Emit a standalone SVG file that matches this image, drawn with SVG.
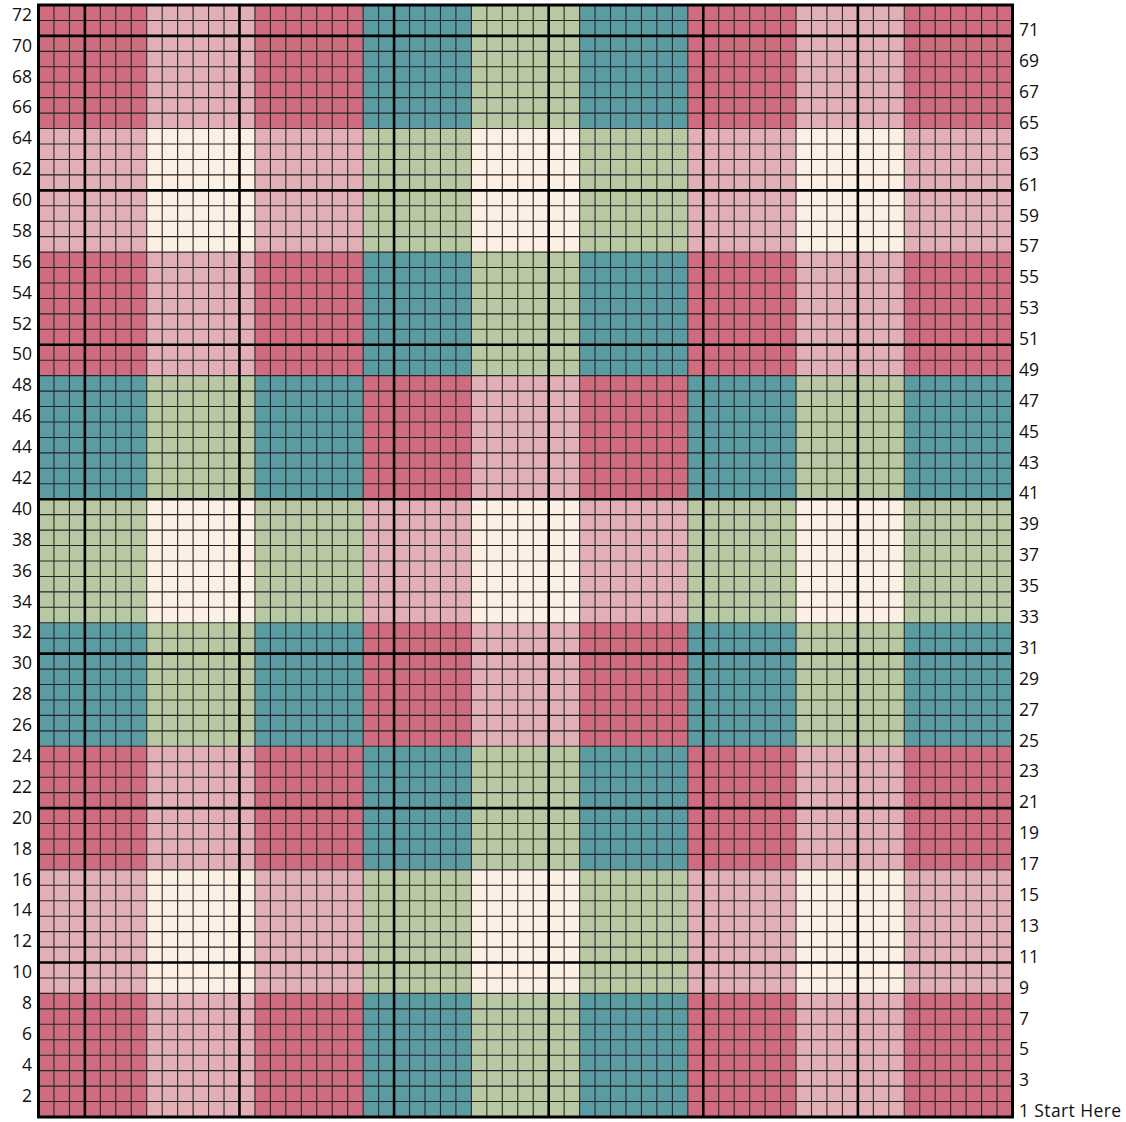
<svg xmlns="http://www.w3.org/2000/svg" xmlns:xlink="http://www.w3.org/1999/xlink" width="1126" height="1122" viewBox="0 0 1126 1122">
<style>
.p{fill:#D06C80}.l{fill:#E2AFB7}.c{fill:#FCF0E5}.t{fill:#5B9CA3}.g{fill:#B7C8A2}
.thin{fill:none;stroke:#262626;stroke-width:1.1}
.thick{fill:none;stroke:#000;stroke-width:2.6}
.border{fill:none;stroke:#000;stroke-width:3}
text{font-family:"Open Sans","Liberation Sans",sans-serif;font-size:17.5px;fill:#111}
.lft{text-anchor:end}
</style>
<defs>
<g id="rowA"><rect class="p" x="38.5" width="108.3" height="123.6"/><rect class="l" x="146.72" width="108.3" height="123.6"/><rect class="p" x="254.94" width="108.3" height="123.6"/><rect class="t" x="363.16" width="108.3" height="123.6"/><rect class="g" x="471.38" width="108.3" height="123.6"/><rect class="t" x="579.6" width="108.3" height="123.6"/><rect class="p" x="687.82" width="108.3" height="123.6"/><rect class="l" x="796.04" width="108.3" height="123.6"/><rect class="p" x="904.26" width="108.3" height="123.6"/></g>
<g id="rowB"><rect class="l" x="38.5" width="108.3" height="123.6"/><rect class="c" x="146.72" width="108.3" height="123.6"/><rect class="l" x="254.94" width="108.3" height="123.6"/><rect class="g" x="363.16" width="108.3" height="123.6"/><rect class="c" x="471.38" width="108.3" height="123.6"/><rect class="g" x="579.6" width="108.3" height="123.6"/><rect class="l" x="687.82" width="108.3" height="123.6"/><rect class="c" x="796.04" width="108.3" height="123.6"/><rect class="l" x="904.26" width="108.3" height="123.6"/></g>
<g id="rowC"><rect class="t" x="38.5" width="108.3" height="123.6"/><rect class="g" x="146.72" width="108.3" height="123.6"/><rect class="t" x="254.94" width="108.3" height="123.6"/><rect class="p" x="363.16" width="108.3" height="123.6"/><rect class="l" x="471.38" width="108.3" height="123.6"/><rect class="p" x="579.6" width="108.3" height="123.6"/><rect class="t" x="687.82" width="108.3" height="123.6"/><rect class="g" x="796.04" width="108.3" height="123.6"/><rect class="t" x="904.26" width="108.3" height="123.6"/></g>
<g id="rowD"><rect class="g" x="38.5" width="108.3" height="123.6"/><rect class="c" x="146.72" width="108.3" height="123.6"/><rect class="g" x="254.94" width="108.3" height="123.6"/><rect class="l" x="363.16" width="108.3" height="123.6"/><rect class="c" x="471.38" width="108.3" height="123.6"/><rect class="l" x="579.6" width="108.3" height="123.6"/><rect class="g" x="687.82" width="108.3" height="123.6"/><rect class="c" x="796.04" width="108.3" height="123.6"/><rect class="g" x="904.26" width="108.3" height="123.6"/></g>
</defs>
<rect width="1126" height="1122" fill="#fff"/>
<g id="blocks">
<use xlink:href="#rowA" href="#rowA" y="5"/>
<use xlink:href="#rowB" href="#rowB" y="128.56"/>
<use xlink:href="#rowA" href="#rowA" y="252.11"/>
<use xlink:href="#rowC" href="#rowC" y="375.67"/>
<use xlink:href="#rowD" href="#rowD" y="499.22"/>
<use xlink:href="#rowC" href="#rowC" y="622.78"/>
<use xlink:href="#rowA" href="#rowA" y="746.33"/>
<use xlink:href="#rowB" href="#rowB" y="869.89"/>
<use xlink:href="#rowA" href="#rowA" y="993.44"/>
</g>
<g id="grid">
<path class="thin" d="M53.96 5V1117M69.42 5V1117M84.88 5V1117M100.34 5V1117M115.8 5V1117M131.26 5V1117M146.72 5V1117M162.18 5V1117M177.64 5V1117M193.1 5V1117M208.56 5V1117M224.02 5V1117M239.48 5V1117M254.94 5V1117M270.4 5V1117M285.86 5V1117M301.32 5V1117M316.78 5V1117M332.24 5V1117M347.7 5V1117M363.16 5V1117M378.62 5V1117M394.08 5V1117M409.54 5V1117M425 5V1117M440.46 5V1117M455.92 5V1117M471.38 5V1117M486.84 5V1117M502.3 5V1117M517.76 5V1117M533.22 5V1117M548.68 5V1117M564.14 5V1117M579.6 5V1117M595.06 5V1117M610.52 5V1117M625.98 5V1117M641.44 5V1117M656.9 5V1117M672.36 5V1117M687.82 5V1117M703.28 5V1117M718.74 5V1117M734.2 5V1117M749.66 5V1117M765.12 5V1117M780.58 5V1117M796.04 5V1117M811.5 5V1117M826.96 5V1117M842.42 5V1117M857.88 5V1117M873.34 5V1117M888.8 5V1117M904.26 5V1117M919.72 5V1117M935.18 5V1117M950.64 5V1117M966.1 5V1117M981.56 5V1117M997.02 5V1117
M38.5 20.44H1012.5M38.5 35.89H1012.5M38.5 51.33H1012.5M38.5 66.78H1012.5M38.5 82.22H1012.5M38.5 97.66H1012.5M38.5 113.11H1012.5M38.5 128.55H1012.5M38.5 144H1012.5M38.5 159.44H1012.5M38.5 174.88H1012.5M38.5 190.33H1012.5M38.5 205.77H1012.5M38.5 221.22H1012.5M38.5 236.66H1012.5M38.5 252.1H1012.5M38.5 267.55H1012.5M38.5 282.99H1012.5M38.5 298.44H1012.5M38.5 313.88H1012.5M38.5 329.32H1012.5M38.5 344.77H1012.5M38.5 360.21H1012.5M38.5 375.66H1012.5M38.5 391.1H1012.5M38.5 406.54H1012.5M38.5 421.99H1012.5M38.5 437.43H1012.5M38.5 452.88H1012.5M38.5 468.32H1012.5M38.5 483.76H1012.5M38.5 499.21H1012.5M38.5 514.65H1012.5M38.5 530.1H1012.5M38.5 545.54H1012.5M38.5 560.98H1012.5M38.5 576.43H1012.5M38.5 591.87H1012.5M38.5 607.32H1012.5M38.5 622.76H1012.5M38.5 638.2H1012.5M38.5 653.65H1012.5M38.5 669.09H1012.5M38.5 684.54H1012.5M38.5 699.98H1012.5M38.5 715.42H1012.5M38.5 730.87H1012.5M38.5 746.31H1012.5M38.5 761.76H1012.5M38.5 777.2H1012.5M38.5 792.64H1012.5M38.5 808.09H1012.5M38.5 823.53H1012.5M38.5 838.98H1012.5M38.5 854.42H1012.5M38.5 869.86H1012.5M38.5 885.31H1012.5M38.5 900.75H1012.5M38.5 916.2H1012.5M38.5 931.64H1012.5M38.5 947.08H1012.5M38.5 962.53H1012.5M38.5 977.97H1012.5M38.5 993.42H1012.5M38.5 1008.86H1012.5M38.5 1024.3H1012.5M38.5 1039.75H1012.5M38.5 1055.19H1012.5M38.5 1070.64H1012.5M38.5 1086.08H1012.5M38.5 1101.52H1012.5"/>
<path class="thick" d="M84.88 5V1117M239.48 5V1117M394.08 5V1117M548.68 5V1117M703.28 5V1117M857.88 5V1117M38.5 35.89H1012.5M38.5 190.33H1012.5M38.5 344.77H1012.5M38.5 499.21H1012.5M38.5 653.65H1012.5M38.5 808.09H1012.5M38.5 962.53H1012.5"/>
<rect class="border" x="38.5" y="5" width="974" height="1112"/>
</g>
<g id="left-labels" class="lft">
<text x="32" y="20.72">72</text><text x="32" y="51.61">70</text><text x="32" y="82.5">68</text><text x="32" y="113.38">66</text><text x="32" y="144.27">64</text><text x="32" y="175.16">62</text><text x="32" y="206.05">60</text><text x="32" y="236.94">58</text><text x="32" y="267.82">56</text><text x="32" y="298.71">54</text><text x="32" y="329.6">52</text><text x="32" y="360.49">50</text><text x="32" y="391.38">48</text><text x="32" y="422.26">46</text><text x="32" y="453.15">44</text><text x="32" y="484.04">42</text><text x="32" y="514.93">40</text><text x="32" y="545.82">38</text><text x="32" y="576.7">36</text><text x="32" y="607.59">34</text><text x="32" y="638.48">32</text><text x="32" y="669.37">30</text><text x="32" y="700.26">28</text><text x="32" y="731.14">26</text><text x="32" y="762.03">24</text><text x="32" y="792.92">22</text><text x="32" y="823.81">20</text><text x="32" y="854.7">18</text><text x="32" y="885.58">16</text><text x="32" y="916.47">14</text><text x="32" y="947.36">12</text><text x="32" y="978.25">10</text><text x="32" y="1009.14">8</text><text x="32" y="1040.02">6</text><text x="32" y="1070.91">4</text><text x="32" y="1101.8">2</text>
</g>
<g id="right-labels">
<text x="1019" y="36.17">71</text><text x="1019" y="67.05">69</text><text x="1019" y="97.94">67</text><text x="1019" y="128.83">65</text><text x="1019" y="159.72">63</text><text x="1019" y="190.61">61</text><text x="1019" y="221.5">59</text><text x="1019" y="252.38">57</text><text x="1019" y="283.27">55</text><text x="1019" y="314.16">53</text><text x="1019" y="345.05">51</text><text x="1019" y="375.94">49</text><text x="1019" y="406.82">47</text><text x="1019" y="437.71">45</text><text x="1019" y="468.6">43</text><text x="1019" y="499.49">41</text><text x="1019" y="530.38">39</text><text x="1019" y="561.26">37</text><text x="1019" y="592.15">35</text><text x="1019" y="623.04">33</text><text x="1019" y="653.93">31</text><text x="1019" y="684.82">29</text><text x="1019" y="715.7">27</text><text x="1019" y="746.59">25</text><text x="1019" y="777.48">23</text><text x="1019" y="808.37">21</text><text x="1019" y="839.26">19</text><text x="1019" y="870.14">17</text><text x="1019" y="901.03">15</text><text x="1019" y="931.92">13</text><text x="1019" y="962.81">11</text><text x="1019" y="993.7">9</text><text x="1019" y="1024.58">7</text><text x="1019" y="1055.47">5</text><text x="1019" y="1086.36">3</text><text x="1019" y="1117.25" textLength="102" lengthAdjust="spacing">1 Start Here</text>
</g>
</svg>
